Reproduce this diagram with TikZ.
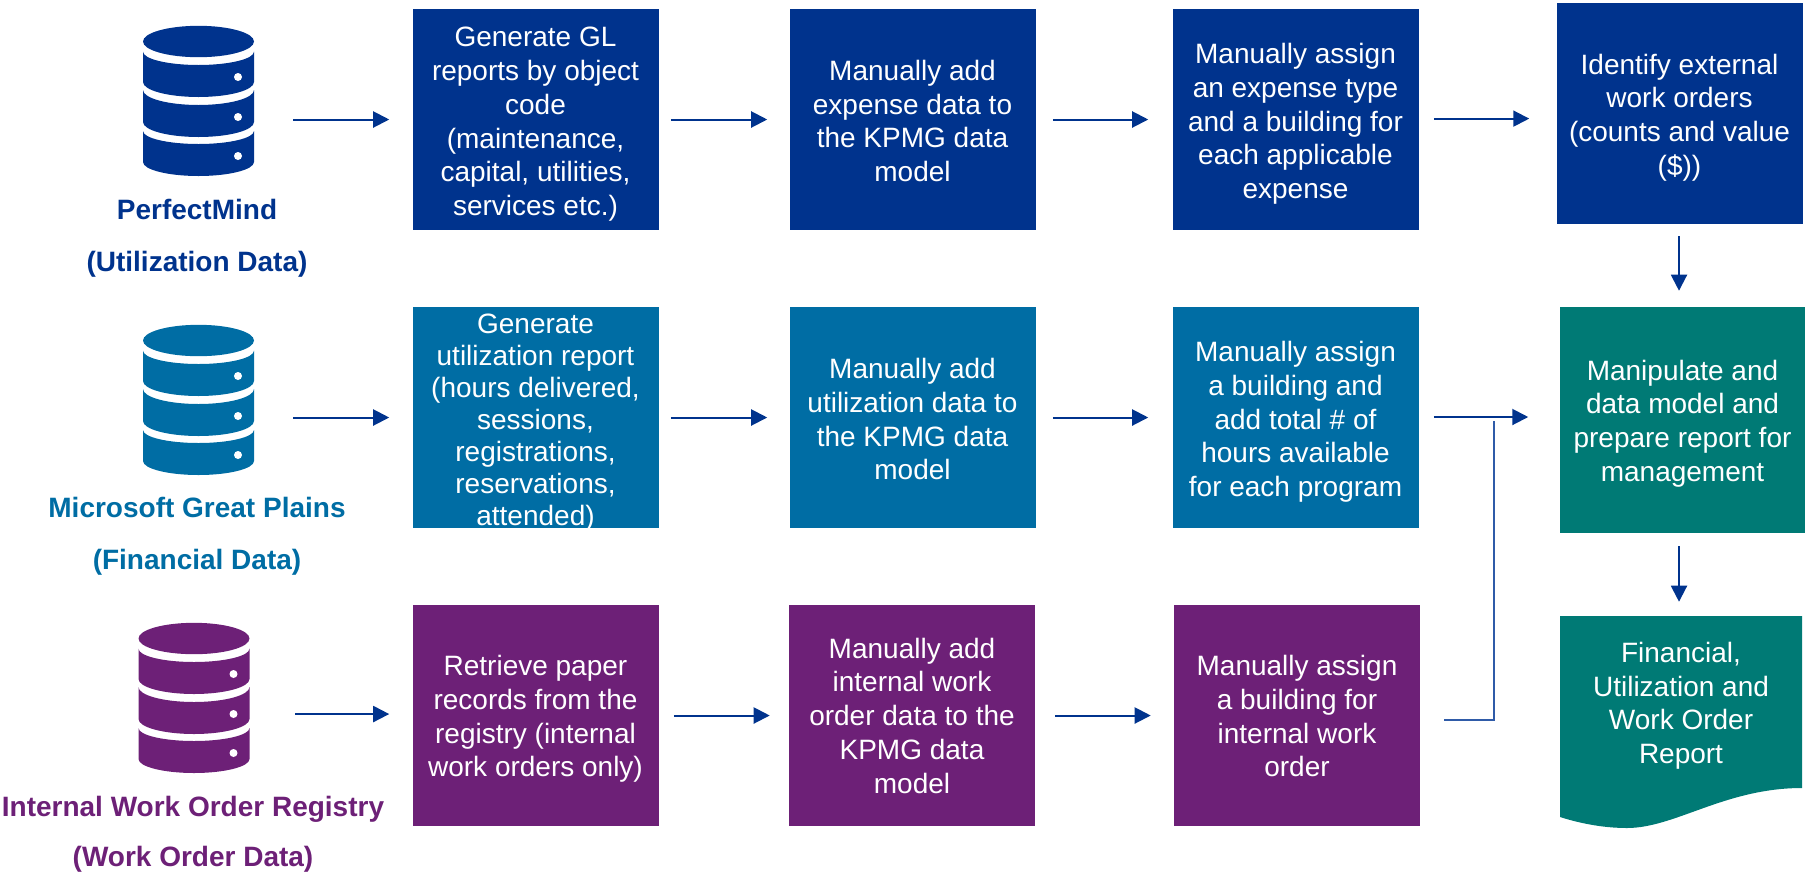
\documentclass[tikz,border=0pt]{standalone}
\usepackage{fontspec}
\setmainfont{Liberation Sans}
\usetikzlibrary{arrows.meta}
\definecolor{navy}{HTML}{00338D}
\definecolor{midblue}{HTML}{006DA4}
\definecolor{plum}{HTML}{6D2077}
\definecolor{teal}{HTML}{007A75}
\definecolor{elbow}{HTML}{2F5BA8}
\newcommand{\dn}[2]{\raisebox{\dimexpr-5.25pt-#1\relax}[0pt][0pt]{\parbox{180pt}{\centering #2}}}
\newcommand{\dbband}[4]{\fill (143,#1) .. controls (143,#1+0.55*#2) and (168,#1+#2) .. (198.5,#1+#2) .. controls (229,#1+#2) and (254,#1+0.55*#2) .. (254,#1) -- (254,#3) .. controls (254,#3+0.55*#4) and (229,#3+#4) .. (198.5,#3+#4) .. controls (168,#3+#4) and (143,#3+0.55*#4) .. (143,#3) -- cycle;}
\newcommand{\dbicon}[3]{%
  \begin{scope}[shift={(#1,#2)},fill=#3]
    \fill (198.5,41.5) ellipse [x radius=55.5,y radius=15.7];
    \dbband{51.7}{13.3}{82}{15}
    \dbband{90}{15}{122}{15}
    \dbband{131}{13}{162}{14}
    \foreach \yy in {77,117,156}{\fill[white] (238,\yy) circle [radius=4];}
  \end{scope}}
\tikzset{
  x=0.75pt,y=-0.75pt,
  stepbox/.style={rectangle,inner sep=0pt,text=white,align=center,
    minimum width=184.5pt,minimum height=165.75pt,font=\fontsize{21}{25.3}\selectfont},
  dbicn/.style={rectangle,inner sep=0pt,minimum width=83.25pt,minimum height=112.5pt},
  srclabel/.style={inner sep=0pt,align=center,font=\fontsize{21}{39}\selectfont\bfseries},
  flow/.style={draw=navy,line width=1.5pt,-{Triangle[length=12pt,width=12pt]}},
  thinline/.style={draw=elbow,line width=1.1pt},
}
\begin{document}
\begin{tikzpicture}
\useasboundingbox (0,0) rectangle (1805,872);
% icons
\node[dbicn] (ic1) at (198.5,101) {};
\node[dbicn] (ic2) at (198.5,400) {};
\node[dbicn] (ic3) at (194,698) {};
\dbicon{0}{0}{navy}
\dbicon{0}{299}{midblue}
\dbicon{-4.5}{597}{plum}
% labels
\node[srclabel,text=navy] (l1) at (197,238) {PerfectMind\\(Utilization Data)};
\node[srclabel,text=midblue] (l2) at (197,536) {Microsoft Great Plains\\(Financial Data)};
\node[srclabel,text=plum,font=\fontsize{21}{37.5}\selectfont\bfseries] (l3) at (193,834) {Internal Work Order Registry\\(Work Order Data)};
% row 1
\node[stepbox,fill=navy] (b11) at (535.5,119.5) {\dn{3.5pt}{Generate GL\\reports by object\\code\\(maintenance,\\capital, utilities,\\services etc.)}};
\node[stepbox,fill=navy] (b12) at (912.5,119.5) {\dn{1pt}{Manually add\\expense data to\\the KPMG data\\model}};
\node[stepbox,fill=navy] (b13) at (1295.5,119.5) {\dn{3.2pt}{Manually assign\\an expense type\\and a building for\\each applicable\\expense}};
\node[stepbox,fill=navy] (b14) at (1679.5,113.5) {\dn{3pt}{Identify external\\work orders\\(counts and value\\(\$))}};
% row 2
\node[stepbox,fill=midblue] (b21) at (535.5,417.5) {\dn{3.7pt}{\fontsize{21}{24}\selectfont Generate\\utilization report\\(hours delivered,\\sessions,\\registrations,\\reservations,\\attended)}};
\node[stepbox,fill=midblue] (b22) at (912.5,417.5) {\dn{1.2pt}{Manually add\\utilization data to\\the KPMG data\\model}};
\node[stepbox,fill=midblue] (b23) at (1295.5,417.5) {\dn{3.2pt}{Manually assign\\a building and\\add total \# of\\hours available\\for each program}};
\node[stepbox,fill=teal,minimum height=169.5pt] (b24) at (1682.5,420) {\dn{2.5pt}{Manipulate and\\data model and\\prepare report for\\management}};
% row 3
\node[stepbox,fill=plum] (b31) at (535.5,715.5) {\dn{2.5pt}{Retrieve paper\\records from the\\registry (internal\\work orders only)}};
\node[stepbox,fill=plum] (b32) at (912,715.5) {\dn{0pt}{Manually add\\internal work\\order data to the\\KPMG data\\model}};
\node[stepbox,fill=plum] (b33) at (1297,715.5) {\dn{0.4pt}{Manually assign\\a building for\\internal work\\order}};
% document
\fill[teal] (1560,616) -- (1802,616) -- (1802,788) .. controls (1725,788) and (1675,828) .. (1627,828) .. controls (1605,828) and (1582,824) .. (1560,817) -- cycle;
\node[stepbox,minimum width=181.5pt,minimum height=130.5pt] (doc) at (1681,703) {\dn{2pt}{Financial,\\Utilization and\\Work Order\\Report}};
% arrows row 1
\draw[flow] ([xshift=29.25pt]ic1.east |- b11.west) -- ([xshift=-17.25pt]b11.west);
\draw[flow] ([xshift=9pt]b11.east) -- ([xshift=-16.5pt]b12.west);
\draw[flow] ([xshift=12.75pt]b12.east) -- ([xshift=-18pt]b13.west);
\draw[flow] ([xshift=11.25pt,yshift=0.675pt]b13.east) -- ([xshift=-20.25pt,yshift=-3.825pt]b14.west);
% arrows row 2
\draw[flow] ([xshift=29.25pt]ic2.east |- b21.west) -- ([xshift=-17.25pt]b21.west);
\draw[flow] ([xshift=9pt]b21.east) -- ([xshift=-16.5pt]b22.west);
\draw[flow] ([xshift=12.75pt]b22.east) -- ([xshift=-18pt]b23.west);
\draw[flow] ([xshift=11.25pt,yshift=0.375pt]b23.east) -- ([xshift=-23.25pt,yshift=2.25pt]b24.west);
% arrows row 3
\draw[flow] ([xshift=34pt,yshift=1.1pt]ic3.east |- b31.west) -- ([xshift=-17.25pt,yshift=1.1pt]b31.west);
\draw[flow] ([xshift=11.25pt]b31.east) -- ([xshift=-14.25pt]b32.west);
\draw[flow] ([xshift=15pt]b32.east) -- ([xshift=-17.25pt]b33.west);
% elbow
\coordinate (m) at (1494,421);
\draw[thinline] ([xshift=18pt,yshift=-3.4pt]b33.east) -| (m);
% vertical arrows
\draw[flow] ([xshift=-0.375pt,yshift=-9pt]b14.south) -- ([xshift=-2.625pt,yshift=12pt]b24.north);
\draw[flow] ([xshift=-2.625pt,yshift=-9.75pt]b24.south) -- ([xshift=-1.5pt,yshift=10.5pt]doc.north);
\end{tikzpicture}
\end{document}
